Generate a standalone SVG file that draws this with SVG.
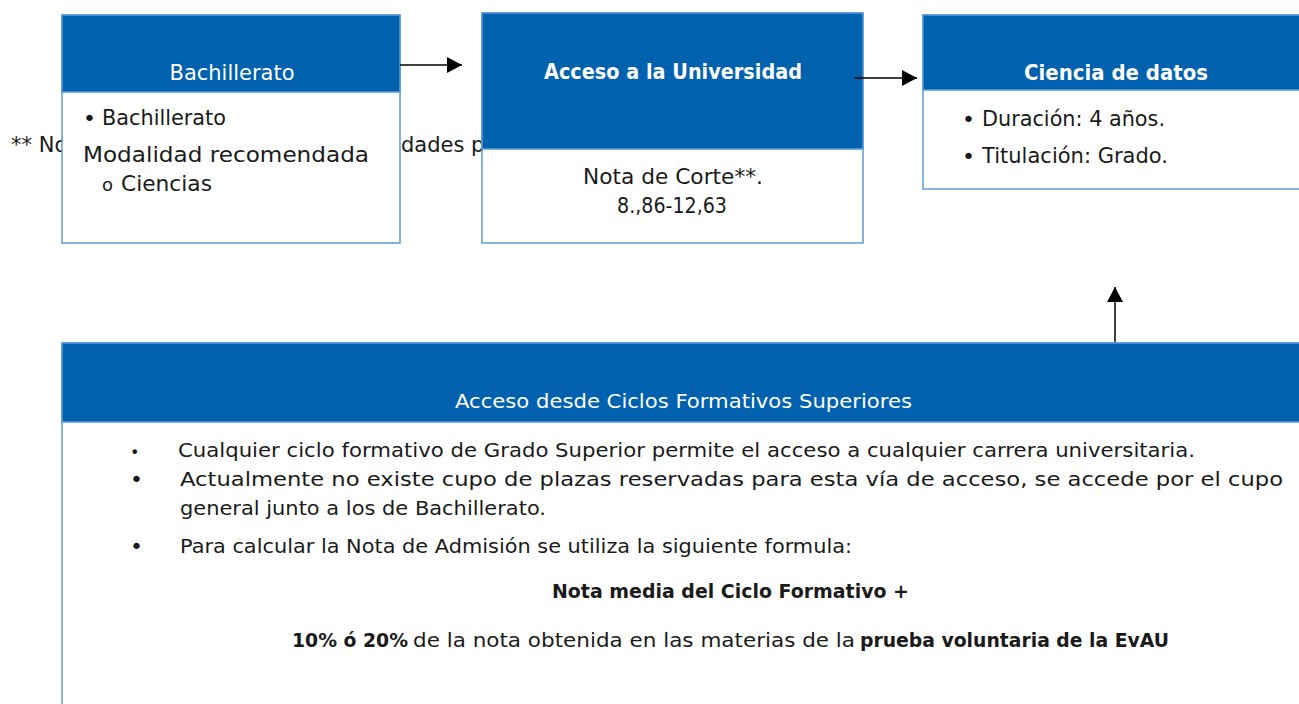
<svg xmlns="http://www.w3.org/2000/svg" width="1299" height="704" viewBox="0 0 1299 704">
<style>
.box{fill:#ffffff;stroke:#5B9BD5;stroke-width:1.5}
.hdr{fill:#0061AE;stroke:#5B9BD5;stroke-width:1.5}
.t{font-family:"DejaVu Sans","Liberation Sans",sans-serif;fill:#1a1a1a}
.w{font-family:"DejaVu Sans","Liberation Sans",sans-serif;fill:#ffffff}
.b{font-weight:bold}
.conn{stroke:#000000;stroke-width:1.5;fill:none}
</style>
<defs>
<marker id="ah" markerUnits="userSpaceOnUse" markerWidth="16" markerHeight="16" viewBox="0 0 16 16" refX="15" refY="8" orient="auto">
<path d="M0,0 L15,8 L0,16 Z" fill="#000000"/>
</marker>
</defs>
<rect x="0" y="0" width="1299" height="704" fill="#ffffff"/>
<g id="footnote">
<text class="t" x="11" y="152" font-size="21">** No</text>
<text class="t" x="401" y="152" font-size="21">dades p</text>
</g>
<g id="node-bachillerato">
<rect class="box" x="62" y="15" width="338" height="228"/>
<rect class="hdr" x="62" y="15" width="338" height="77"/>
<text class="w" x="232" y="80" font-size="21" text-anchor="middle" textLength="125" lengthAdjust="spacingAndGlyphs">Bachillerato</text>
<text class="t" x="83" y="126" font-size="22">•</text>
<text class="t" x="102" y="125" font-size="21" textLength="124" lengthAdjust="spacingAndGlyphs">Bachillerato</text>
<text class="t" x="83" y="162" font-size="21" textLength="286" lengthAdjust="spacingAndGlyphs">Modalidad recomendada</text>
<text class="t" x="102" y="191" font-size="18" font-family="Liberation Mono,monospace">o</text>
<text class="t" x="121" y="191" font-size="21" textLength="91" lengthAdjust="spacingAndGlyphs">Ciencias</text>
</g>
<g id="node-acceso">
<rect class="box" x="482" y="13" width="381" height="230"/>
<rect class="hdr" x="482" y="13" width="381" height="136"/>
<text class="w b" x="673" y="79" font-size="21" text-anchor="middle" textLength="258" lengthAdjust="spacingAndGlyphs">Acceso a la Universidad</text>
<text class="t" x="673" y="184" font-size="21" text-anchor="middle" textLength="180" lengthAdjust="spacingAndGlyphs">Nota de Corte**.</text>
<text class="t" x="672" y="213" font-size="21" text-anchor="middle" textLength="110" lengthAdjust="spacingAndGlyphs">8.,86-12,63</text>
</g>
<g id="node-ciencia">
<rect class="box" x="923" y="15" width="390" height="174"/>
<rect class="hdr" x="923" y="15" width="390" height="75"/>
<text class="w b" x="1024" y="80" font-size="21" textLength="184" lengthAdjust="spacingAndGlyphs">Ciencia de datos</text>
<text class="t" x="962" y="127" font-size="22">•</text>
<text class="t" x="982" y="126" font-size="21" textLength="183" lengthAdjust="spacingAndGlyphs">Duración: 4 años.</text>
<text class="t" x="962" y="164" font-size="22">•</text>
<text class="t" x="982" y="163" font-size="21" textLength="186" lengthAdjust="spacingAndGlyphs">Titulación: Grado.</text>
</g>
<g id="node-ciclos">
<rect class="box" x="62" y="343" width="1250" height="370"/>
<rect class="hdr" x="62" y="343" width="1250" height="79"/>
<text class="w" x="455" y="408" font-size="20" textLength="457" lengthAdjust="spacingAndGlyphs">Acceso desde Ciclos Formativos Superiores</text>
<text class="t" x="130" y="458" font-size="16">•</text>
<text class="t" x="178" y="457" font-size="20" textLength="1017" lengthAdjust="spacingAndGlyphs">Cualquier ciclo formativo de Grado Superior permite el acceso a cualquier carrera universitaria.</text>
<text class="t" x="130" y="487" font-size="22">•</text>
<text class="t" x="180" y="486" font-size="20" textLength="1103" lengthAdjust="spacingAndGlyphs">Actualmente no existe cupo de plazas reservadas para esta vía de acceso, se accede por el cupo</text>
<text class="t" x="180" y="515" font-size="20" textLength="366" lengthAdjust="spacingAndGlyphs">general junto a los de Bachillerato.</text>
<text class="t" x="130" y="554" font-size="22">•</text>
<text class="t" x="180" y="553" font-size="20" textLength="672" lengthAdjust="spacingAndGlyphs">Para calcular la Nota de Admisión se utiliza la siguiente formula:</text>
<text class="t b" x="552" y="598" font-size="20" textLength="357" lengthAdjust="spacingAndGlyphs">Nota media del Ciclo Formativo +</text>
<text class="t b" x="292" y="647" font-size="20" textLength="116" lengthAdjust="spacingAndGlyphs">10% ó 20%</text>
<text class="t" x="413" y="647" font-size="20" textLength="442" lengthAdjust="spacingAndGlyphs">de la nota obtenida en las materias de la</text>
<text class="t b" x="860" y="647" font-size="20" textLength="309" lengthAdjust="spacingAndGlyphs">prueba voluntaria de la EvAU</text>
</g>
<g id="connectors">
<line class="conn" x1="400" y1="65" x2="462" y2="65" marker-end="url(#ah)"/>
<line class="conn" x1="855" y1="78" x2="917" y2="78" marker-end="url(#ah)"/>
<line class="conn" x1="1115" y1="342" x2="1115" y2="287" marker-end="url(#ah)"/>
</g>
</svg>
